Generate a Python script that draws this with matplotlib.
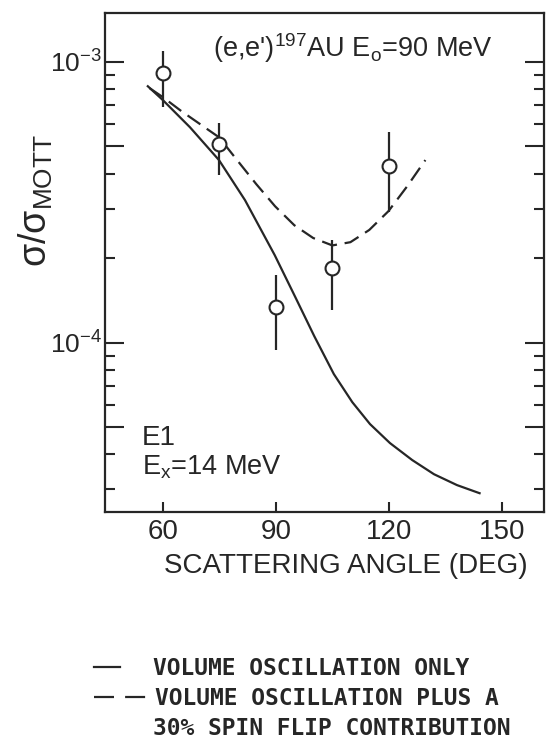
import matplotlib
matplotlib.use("Agg")
import matplotlib.pyplot as plt
from matplotlib.lines import Line2D
from matplotlib.ticker import FixedLocator, LogLocator, NullFormatter

# measured points: scattering angle (deg), sigma / sigma_Mott and error bar ends
angle_pts = [60, 75, 90, 105, 120]
ratio_pts = [9.1e-4, 5.1e-4, 1.34e-4, 1.85e-4, 4.27e-4]
ratio_lo = [6.9e-4, 3.95e-4, 9.4e-5, 1.31e-4, 2.92e-4]
ratio_hi = [1.09e-3, 6.04e-4, 1.74e-4, 2.32e-4, 5.64e-4]

# volume oscillation only (solid)
vol_angle = [56, 60, 67.2, 74.9, 81.8, 89.7, 95.2, 100.2, 105.4, 110.3, 115,
             120.3, 126.2, 132, 138.1, 144.1]
vol_ratio = [8.19e-4, 7.31e-4, 5.85e-4, 4.47e-4, 3.22e-4, 2.05e-4, 1.45e-4, 1.055e-4,
             7.73e-5, 6.14e-5, 5.13e-5, 4.39e-5, 3.82e-5, 3.4e-5, 3.11e-5, 2.91e-5]

# volume oscillation plus 30% spin flip (dashed)
sf_angle = [56.5, 60, 64.9, 69.9, 74.9, 79.7, 84.8, 89.8, 94.9, 99.9, 105, 109.8,
            114.8, 119.9, 124.9, 129.7]
sf_ratio = [8.06e-4, 7.49e-4, 6.68e-4, 6.0e-4, 5.39e-4, 4.47e-4, 3.67e-4, 3.06e-4,
            2.62e-4, 2.36e-4, 2.22e-4, 2.28e-4, 2.52e-4, 2.94e-4, 3.61e-4, 4.47e-4]

xticks = [60, 90, 120, 150]
yticks = [5e-5, 1e-4, 5e-4, 1e-3]
ytick_labels = ['', r'$10^{-4}$', '', r'$10^{-3}$']

ink = '#262626'
plt.rcParams['font.family'] = ['Liberation Sans', 'DejaVu Sans']
plt.rcParams['mathtext.fontset'] = 'custom'
plt.rcParams['mathtext.rm'] = 'Liberation Sans'
plt.rcParams['mathtext.it'] = 'Liberation Sans'
plt.rcParams['mathtext.bf'] = 'Liberation Sans:bold'
plt.rcParams['text.color'] = ink

fig = plt.figure(figsize=(5.46, 7.5), dpi=100)
ax = fig.add_axes([0.1914, 0.3177, 0.8049, 0.6646])

ax.plot(vol_angle, vol_ratio, color=ink, lw=1.6, solid_joinstyle='round')
ax.plot(sf_angle, sf_ratio, color=ink, lw=1.6, linestyle=(0, (7, 3.5)))

yerr = [[p - lo for p, lo in zip(ratio_pts, ratio_lo)],
        [hi - p for p, hi in zip(ratio_pts, ratio_hi)]]
ax.errorbar(angle_pts, ratio_pts, yerr=yerr, fmt='o', ms=10, mfc='white',
            mec=ink, mew=1.5, ecolor=ink, elinewidth=1.6, capsize=0, zorder=3)

ax.set_yscale('log')
ax.set_xlim(44.5, 161.2)
ax.set_ylim(2.5e-5, 1.49e-3)

ax.xaxis.set_major_locator(FixedLocator(xticks))
ax.set_xticklabels([str(t) for t in xticks])
ax.yaxis.set_major_locator(FixedLocator(yticks))
ax.set_yticklabels(ytick_labels)
ax.yaxis.set_minor_locator(LogLocator(base=10, subs=[2, 3, 4, 6, 7, 8, 9]))
ax.yaxis.set_minor_formatter(NullFormatter())

ax.tick_params(axis='x', which='major', direction='in', length=7, width=1.5,
               colors=ink, labelsize=20, pad=5, top=False)
ax.tick_params(axis='y', which='major', direction='in', length=14, width=1.5,
               colors=ink, labelsize=19, pad=2, right=True)
ax.tick_params(axis='y', which='minor', direction='in', length=7, width=1.5,
               colors=ink, right=True)
for s in ax.spines.values():
    s.set_linewidth(1.6)
    s.set_color(ink)

ax.text(0.247, 0.912, r"(e,e')$^{197}$AU E$_{\mathrm{o}}$=90 MeV",
        transform=ax.transAxes, fontsize=19.5, va='baseline', ha='left')
ax.text(0.085, 0.134, 'E1', transform=ax.transAxes, fontsize=20,
        va='baseline', ha='left')
ax.text(0.085, 0.074, r'E$_{\mathrm{x}}$=14 MeV', transform=ax.transAxes,
        fontsize=19.5, va='baseline', ha='left')

fig.text(346 / 546, 1 - 573 / 750, 'SCATTERING ANGLE (DEG)', fontsize=20,
         ha='center', va='baseline')
fig.text(36 / 546, 1 - 201 / 750, r'σ/σ$_{\mathrm{MOTT}}$', fontsize=27,
         rotation=90, ha='center', va='center')

# key below the plot
fig.add_artist(Line2D([94 / 546, 120 / 546], [1 - 667 / 750] * 2, color=ink, lw=1.6))
fig.add_artist(Line2D([94 / 546, 146 / 546], [1 - 697 / 750] * 2, color=ink, lw=1.6,
                      linestyle=(0, (9, 5))))
key_kw = dict(fontsize=16.5, fontweight='bold', family='DejaVu Sans Mono',
              ha='left', va='baseline')
fig.text(153 / 546, 1 - 675 / 750, 'VOLUME OSCILLATION ONLY', **key_kw)
fig.text(155 / 546, 1 - 705 / 750, 'VOLUME OSCILLATION PLUS A', **key_kw)
fig.text(153 / 546, 1 - 735 / 750, '30% SPIN FLIP CONTRIBUTION', **key_kw)

fig.savefig('out.png', dpi=100, facecolor='white')
